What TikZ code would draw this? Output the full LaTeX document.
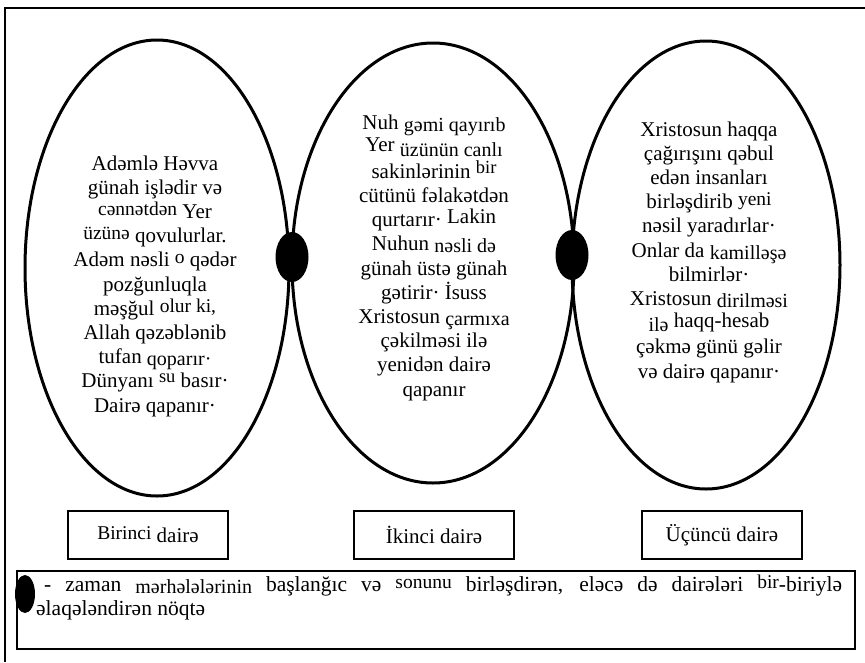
\documentclass[tikz,border=0pt]{standalone}
\usepackage{fontspec}
\setmainfont{Liberation Serif}
\usetikzlibrary{shapes.geometric}
% words set a little higher or lower, in a smaller size
\newcommand{\upw}[1]{\raisebox{3pt}{\fontsize{19.5}{19.5}\selectfont #1}}
\newcommand{\dnw}[1]{\raisebox{-2pt}{\fontsize{20}{20}\selectfont #1}}
\newcommand{\supw}[1]{\raisebox{5pt}{\fontsize{18.5}{18.5}\selectfont #1}}
\begin{document}
\begin{tikzpicture}[
        x=1pt, y=-1pt,
        circ/.style={ellipse, draw, line width=3pt, inner sep=0pt},
        joint/.style={ellipse, fill, inner sep=0pt, minimum width=33pt, minimum height=50pt},
        story/.style={align=center, font=\fontsize{21}{24.2}\selectfont},
        label/.style={draw, line width=1.3pt, minimum width=160pt, minimum height=48pt,
            font=\fontsize{21}{24}\selectfont}
    ]
        \useasboundingbox (0,0) rectangle (865,662);
        % frame
        \draw[line width=1.6pt] (5,662) |- (865,8);

        % three circles
        \node [circ, minimum width=264pt, minimum height=456pt] (C1) at (157,268) {};
        \node [circ, minimum width=282pt, minimum height=440pt] (C2) at (433,263) {};
        \node [circ, minimum width=268pt, minimum height=448pt] (C3) at (706,265) {};

        \node [joint] (J1) at (292,257) {};
        \node [joint] (J2) at (572,255) {};

        \node [story] (T1) at (155,286) {Adəmlə Həvva\\günah işlədir və\\\upw{cənnətdən} Yer\\\upw{üzünə} qovulurlar.\\Adəm nəsli \upw{o} qədər\\pozğunluqla\\məşğul \upw{olur ki,}\\Allah qəzəblənib\\tufan \dnw{qoparır·}\\Dünyanı \supw{su} basır·\\Dairə qapanır·};
        \node [story] (T2) at (434,258) {Nuh \dnw{gəmi qayırıb}\\\raisebox{3pt}{Yer} \dnw{üzünün canlı}\\sakinlərinin \supw{bir}\\cütünü fəlakətdən\\qurtarır· \raisebox{3pt}{Lakin}\\Nuhun \dnw{nəsli də}\\günah üstə günah\\gətirir· İsuss\\Xristosun \dnw{çarmıxa}\\çəkilməsi ilə\\yenidən dairə\\qapanır};
        \node [story] (T3) at (709,252) {Xristosun haqqa\\çağırışını qəbul\\edən insanları\\birləşdirib \upw{yeni}\\nəsil yaradırlar·\\Onlar da \dnw{kamilləşə}\\bilmirlər·\\Xristosun \dnw{dirilməsi}\\\dnw{ilə} \raisebox{2pt}{haqq-hesab}\\çəkmə günü gəlir\\və dairə qapanır·};

        % names
        \node [label] (L1) at (148,535) {\upw{Birinci} dairə};
        \node [label] (L2) at (434,535) {İkinci dairə};
        \node [label] (L3) at (722,535) {Üçüncü dairə};

        % legend
        \draw[line width=1.6pt] (17,571) rectangle (855,649);
        \node [joint, minimum width=20pt, minimum height=38pt] (J0) at (25,594) {};
        \node [anchor=north west, text width=806pt, align=justify, inner sep=0pt,
            font=\fontsize{21.5}{24}\selectfont] (key) at (36,575)
            {\hspace*{8pt}- zaman \dnw{mərhələlərinin} başlanğıc və \upw{sonunu} birləşdirən, eləcə də dairələri \upw{bir}-biriylə\linebreak əlaqələndirən nöqtə};
    \end{tikzpicture}
\end{document}
